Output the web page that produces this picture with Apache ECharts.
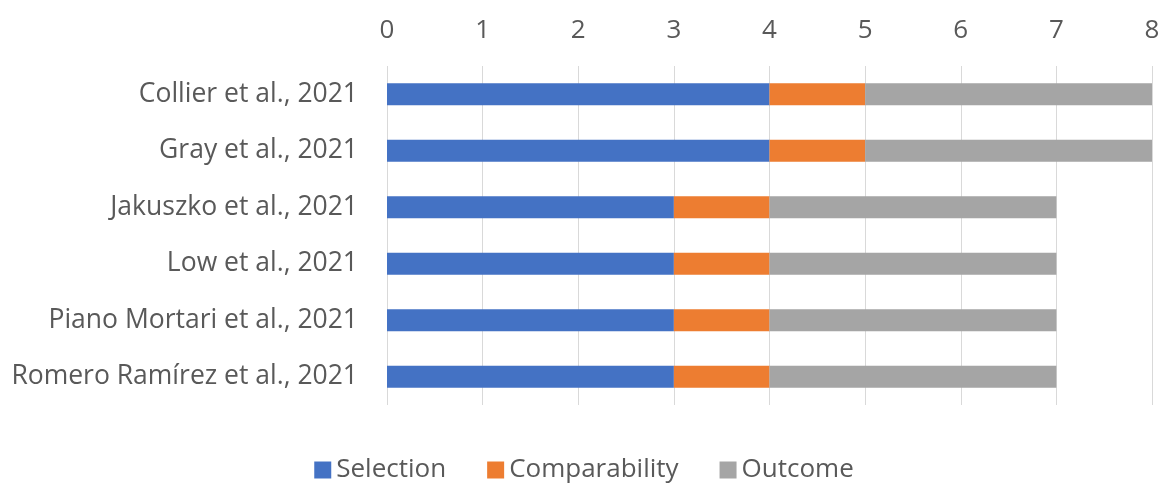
<!DOCTYPE html>
<html>
<head>
<meta charset="utf-8">
<script src="https://cdn.jsdelivr.net/npm/echarts@6/dist/echarts.min.js"></script>
<style>
  html, body { margin: 0; padding: 0; background: #fff; }
  #main { width: 1168px; height: 483px; }
</style>
</head>
<body>
<div id="main"></div>
<script>
// studies, top to bottom
const studies = [
  'Collier et al., 2021',
  'Gray et al., 2021',
  'Jakuszko et al., 2021',
  'Low et al., 2021',
  'Piano Mortari et al., 2021',
  'Romero Ramírez et al., 2021'
];
const selection = [4, 4, 3, 3, 3, 3];
const comparability = [1, 1, 1, 1, 1, 1];
const outcome = [3, 3, 3, 3, 3, 3];

const fontFamily = 'Open Sans';
const textColor = '#595959';

let chart = echarts.init(document.getElementById('main'));

function bar(name, data, color) {
  return {
    name: name,
    type: 'bar',
    stack: 'score',
    data: data,
    barWidth: 22,
    itemStyle: { color: color },
    emphasis: { disabled: true }
  };
}

let option = {
  animation: false,
  textStyle: { fontFamily: fontFamily },
  grid: { left: 387, right: 16, top: 66, bottom: 78 },
  legend: {
    top: 452,
    left: 'center',
    itemWidth: 17,
    itemHeight: 17,
    itemGap: 41,
    icon: 'rect',
    textStyle: { fontSize: 26, color: textColor, fontFamily: fontFamily },
    data: ['Selection', 'Comparability', 'Outcome']
  },
  xAxis: {
    type: 'value',
    position: 'top',
    min: 0,
    max: 8,
    interval: 1,
    axisLine: { show: false },
    axisTick: { show: false },
    axisLabel: { fontSize: 26, color: textColor, margin: 22 },
    splitLine: { lineStyle: { color: '#d9d9d9', width: 1 } }
  },
  yAxis: {
    type: 'category',
    inverse: true,
    data: studies,
    axisLine: { show: false },
    axisTick: { show: false },
    axisLabel: { fontSize: 26.5, color: textColor, margin: 29 }
  },
  series: [
    bar('Selection', selection, '#4472c4'),
    bar('Comparability', comparability, '#ed7d31'),
    bar('Outcome', outcome, '#a5a5a5')
  ]
};

chart.setOption(option);
</script>
</body>
</html>
